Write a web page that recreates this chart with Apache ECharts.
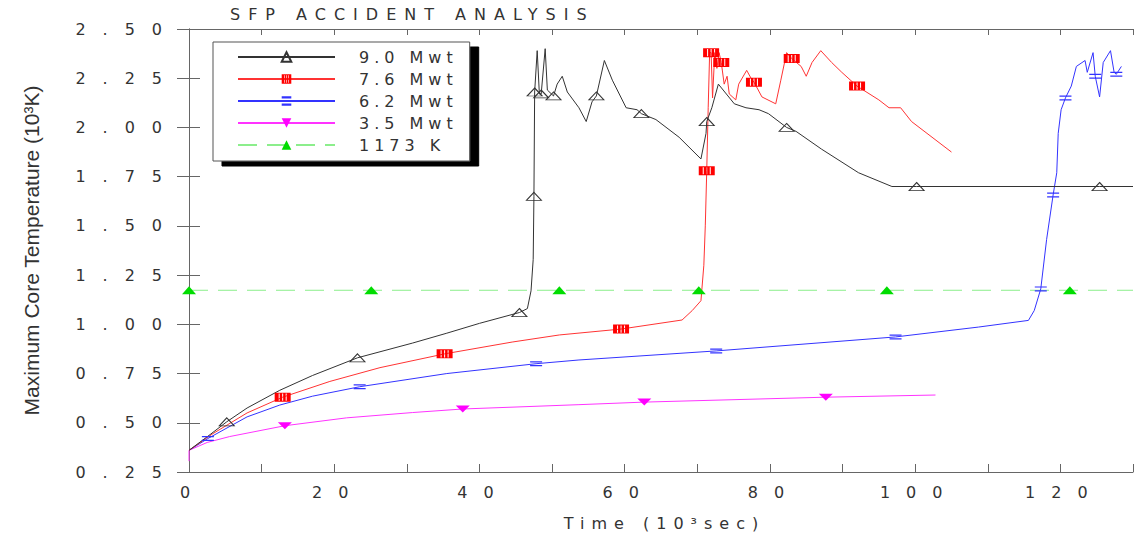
<!DOCTYPE html>
<html>
<head>
<meta charset="utf-8">
<script src="https://cdn.jsdelivr.net/npm/echarts@6/dist/echarts.min.js"></script>
<style>
html, body { margin: 0; padding: 0; background: #fff; }
#chart { width: 1136px; height: 541px; }
#chart text[style*="lsT"] { letter-spacing: 8px; }
#chart text[style*="lsL"] { letter-spacing: 5px; }
#chart text[style*="lsX"] { letter-spacing: 16px; }
#chart text[style*="lsY"] { letter-spacing: 17px; }
#chart text[style*="lsN"] { letter-spacing: 7px; }
</style>
</head>
<body>
<div id="chart"></div>
<script>
// ---- texts ----
const chartTitle = 'SFP ACCIDENT ANALYSIS';
const xAxisName = 'Time (10³sec)';
const yAxisName = 'Maximum Core Temperature (10³K)';
const seriesNames = ['9.0 Mwt', '7.6 Mwt', '6.2 Mwt', '3.5 Mwt', '1173 K'];
const xLabelValues = [0, 20, 40, 60, 80, 100, 120];

// ---- 9.0 Mwt ----
const x90 = [0, 2.9, 5.2, 8.0, 12.5, 17.0, 23.2, 30.8, 35.5, 40.0,
  45.5, 46.6, 47.1, 47.4, 47.5, 47.6, 47.95, 48.25, 48.5, 49.05,
  49.35, 50.2, 50.7, 51.4, 52.1, 53.7, 54.7, 55.5, 56.1, 57.2,
  58.3, 60.2, 61.7, 62.3, 64.3, 67.5, 70.5, 71.2, 71.3, 72.0,
  72.9, 75.1, 76.7, 78.5, 79.8, 82.3, 83.6, 87.1, 92.2, 96.8,
  100.2, 125.4, 130];
const y90 = [0.36, 0.44, 0.505, 0.575, 0.665, 0.74, 0.83, 0.905, 0.955, 1.005,
  1.06, 1.08, 1.17, 1.33, 1.65, 2.18, 2.39, 2.17, 2.17, 2.40,
  2.19, 2.16, 2.22, 2.26, 2.18, 2.10, 2.03, 2.13, 2.16, 2.34,
  2.24, 2.10, 2.09, 2.07, 2.04, 1.95, 1.84, 1.97, 2.03, 2.10,
  2.22, 2.12, 2.10, 2.09, 2.07, 2.00, 1.98, 1.89, 1.77, 1.70,
  1.70, 1.70, 1.70];
const m90 = [5.2, 23.2, 45.5, 47.5, 47.6, 48.5, 50.2, 56.1, 62.3, 71.3, 82.3, 100.2, 125.4];

// ---- 7.6 Mwt ----
const x76 = [0, 3.3, 8.0, 12.9, 19.4, 26.3, 35.2, 44.5, 51.0, 59.5,
  67.9, 69.3, 70.5, 70.9, 71.1, 71.3, 71.5, 71.7, 71.9, 72.1,
  72.4, 72.7, 73.0, 73.3, 73.7, 74.1, 74.4, 75.3, 75.7, 76.8,
  77.4, 77.8, 78.1, 78.9, 80.8, 81.5, 82.3, 83.0, 84.3, 85.0,
  85.8, 87.0, 88.5, 89.9, 92.0, 95.0, 96.4, 98.0, 99.5, 105.0];
const y76 = [0.36, 0.445, 0.55, 0.63, 0.71, 0.78, 0.85, 0.91, 0.946, 0.976,
  1.022, 1.07, 1.12, 1.30, 1.50, 1.78, 2.10, 2.38, 2.38, 2.15,
  2.38, 2.30, 2.38, 2.33, 2.22, 2.26, 2.17, 2.14, 2.22, 2.29,
  2.25, 2.23, 2.21, 2.155, 2.12, 2.24, 2.38, 2.35, 2.31, 2.26,
  2.33, 2.39, 2.33, 2.28, 2.21, 2.14, 2.10, 2.10, 2.03, 1.875];
const m76 = [12.9, 35.2, 59.5, 71.3, 71.9, 73.3, 77.8, 83.0, 92.0];

// ---- 6.2 Mwt ----
const x62 = [0, 2.6, 8.0, 12.5, 17.0, 23.5, 35.5, 47.8, 53.7, 72.6,
  97.3, 108.7, 115.6, 116.4, 117.3, 118.1, 119.0, 119.5, 119.7, 120.1,
  120.7, 121.5, 122.2, 123.4, 123.7, 124.5, 124.8, 125.4, 125.9, 126.9,
  127.4, 127.7, 128.4];
const y62 = [0.36, 0.42, 0.53, 0.59, 0.635, 0.683, 0.75, 0.80, 0.819, 0.865,
  0.936, 0.986, 1.02, 1.07, 1.18, 1.43, 1.657, 1.77, 1.97, 2.09,
  2.15, 2.21, 2.31, 2.34, 2.28, 2.38, 2.26, 2.155, 2.33, 2.39,
  2.28, 2.27, 2.31];
const m62 = [2.6, 23.5, 47.8, 72.6, 97.3, 117.3, 119.0, 120.7, 124.8, 127.7];

// ---- 3.5 Mwt ----
const x35 = [0, 0, 2.5, 5.6, 13.2, 21.7, 30.8, 37.7, 53.7, 62.7, 87.7, 102.8];
const y35 = [0.305, 0.36, 0.40, 0.43, 0.485, 0.525, 0.552, 0.57, 0.592, 0.605, 0.63, 0.641];
const m35 = [13.2, 37.7, 62.7, 87.7];

// ---- 1173 K limit ----
const x1173 = [0, 25.1, 51.0, 70.2, 96.1, 121.3, 130];
const y1173 = [1.173, 1.173, 1.173, 1.173, 1.173, 1.173, 1.173];
const m1173 = [0, 25.1, 51.0, 70.2, 96.1, 121.3];

function build(xs, ys, marks) {
  return xs.map((x, i) => marks.indexOf(x) >= 0
    ? [x, ys[i]]
    : { value: [x, ys[i]], symbol: 'none' });
}

const stripeRect = 'path://M0,0H16V10H0Z M4,1V9H5V1Z M7.5,1V9H8.5V1Z M11,1V9H12V1Z';
const eqSign = 'path://M0,0H12V1.3H0Z M0,4H12V5.3H0Z';
const downTri = 'path://M0,0H14L7,7Z';

const TXT = '#333';
const AX = '#666';

const chart = echarts.init(document.getElementById('chart'), null, { renderer: 'svg' });

function lineSeries(name, data, color, symbol, size, itemStyle, lineType) {
  return {
    name: name, type: 'line', data: data,
    symbol: symbol, symbolSize: size,
    showSymbol: true, showAllSymbol: true,
    lineStyle: { color: color, width: 1, type: lineType || 'solid' },
    itemStyle: itemStyle,
    emphasis: { disabled: true },
    silent: true
  };
}

chart.setOption({
  animation: false,
  title: {
    text: chartTitle, left: 230, top: 6, padding: 0,
    textStyle: { fontFamily: 'DejaVu Sans, lsT', fontSize: 16, fontWeight: 'normal', color: TXT }
  },
  legend: {
    orient: 'vertical', left: 213, top: 42,
    itemWidth: 97, itemHeight: 12, itemGap: 6,
    padding: [7, 47, 8, 24],
    backgroundColor: '#fff', borderColor: '#555', borderWidth: 1, borderRadius: 0,
    shadowColor: '#000', shadowBlur: 0, shadowOffsetX: 9, shadowOffsetY: 5,
    selectedMode: false,
    data: seriesNames,
    textStyle: { fontFamily: 'DejaVu Sans, lsL', fontSize: 16, color: TXT, padding: [0, 0, 0, 19] }
  },
  grid: { left: 189, right: 1, top: 29, bottom: 69, containLabel: false },
  xAxis: [{
    type: 'value', position: 'bottom', min: 0, max: 130, interval: 10,
    axisLine: { show: true, lineStyle: { color: AX, width: 1 } },
    axisTick: { show: true, inside: true, length: 8, lineStyle: { color: AX } },
    splitLine: { show: false },
    axisLabel: {
      margin: 12, color: TXT, fontSize: 16, fontFamily: 'DejaVu Sans, lsX', padding: [0, 0, 0, 8],
      formatter: v => xLabelValues.indexOf(v) >= 0 ? String(v) : ''
    },
    name: xAxisName, nameLocation: 'middle', nameGap: 43,
    nameTextStyle: { color: TXT, fontSize: 16, fontFamily: 'DejaVu Sans, lsN', padding: [0, 0, 0, 7] }
  }, {
    type: 'value', position: 'top', min: 0, max: 130, interval: 10,
    axisLine: { show: true, lineStyle: { color: AX, width: 1 } },
    axisTick: { show: true, inside: true, length: 6, lineStyle: { color: AX } },
    splitLine: { show: false }, axisLabel: { show: false }
  }],
  yAxis: [{
    type: 'value', position: 'left', min: 0.25, max: 2.5, interval: 0.25,
    axisLine: { show: true, lineStyle: { color: AX, width: 1 } },
    axisTick: { show: true, inside: true, length: 11, lineStyle: { color: AX } },
    splitLine: { show: false },
    axisLabel: {
      margin: 10, color: TXT, fontSize: 16, fontFamily: 'DejaVu Sans, lsY',
      formatter: v => v.toFixed(2)
    },
    name: yAxisName, nameLocation: 'middle', nameGap: 147, nameRotate: 90,
    nameTextStyle: { color: TXT, fontSize: 21, fontFamily: 'Liberation Sans' }
  }, {
    type: 'value', position: 'right', min: 0.25, max: 2.5, interval: 0.25,
    axisLine: { show: true, lineStyle: { color: AX, width: 1 } },
    axisTick: { show: true, inside: true, length: 12, lineStyle: { color: AX } },
    splitLine: { show: false }, axisLabel: { show: false }
  }],
  series: [
    lineSeries(seriesNames[4], build(x1173, y1173, m1173), '#8cee8c', 'triangle', [14, 8],
      { color: '#00dd00' }, [19, 10]),
    lineSeries(seriesNames[3], build(x35, y35, m35), '#ff33ff', downTri, [14, 7],
      { color: '#ff00ff' }),
    lineSeries(seriesNames[2], build(x62, y62, m62), '#3333ff', eqSign, [12, 5],
      { color: '#3333ff' }),
    lineSeries(seriesNames[1], build(x76, y76, m76), '#ff3333', stripeRect, [16, 9],
      { color: '#ff0000' }),
    lineSeries(seriesNames[0], build(x90, y90, m90), '#333333', 'triangle', [15, 8],
      { color: 'rgba(255,255,255,0)', borderColor: '#333', borderWidth: 1 })
  ]
});
</script>
</body>
</html>
